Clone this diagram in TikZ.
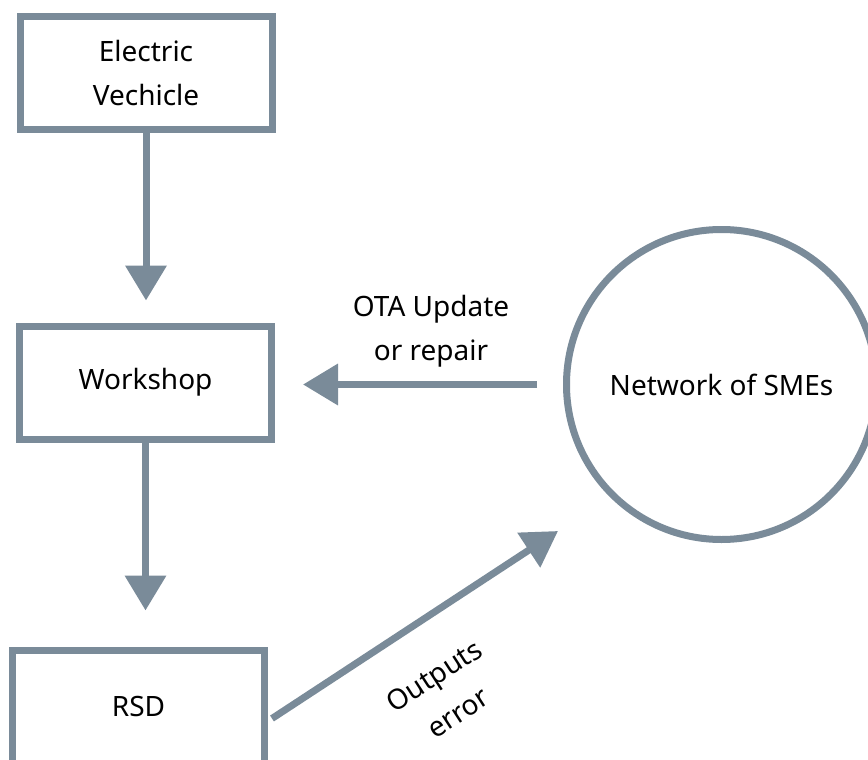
\documentclass[tikz,border=0pt]{standalone}
\usepackage{fontspec}
\setmainfont{Noto Sans}
\usetikzlibrary{arrows.meta}
\definecolor{slate}{RGB}{122,139,153}

\begin{document}
\begin{tikzpicture}[x=1pt,y=-1pt,>={Triangle[length=35pt,width=40pt]},line join=miter,
  box/.style={draw=slate,line width=7pt,inner sep=0pt,minimum width=252pt,minimum height=113pt,align=center,font=\fontsize{28}{44}\selectfont},
  hub/.style={draw=slate,line width=7pt,circle,inner sep=0pt,minimum size=310pt,font=\fontsize{28}{30}\selectfont},
  flow/.style={->,draw=slate,line width=7pt},
  lbl/.style={align=center,font=\fontsize{28}{44}\selectfont}]
\useasboundingbox (0,0) rectangle (868,760);
\node[box] (ev) at (146,73) {Electric\\Vechicle};
\node[box] (ws) at (145.5,382.5) {\raisebox{-5pt}{Workshop}};
\node[box] (rsd) at (138.5,706.5) {RSD};
\node[hub] (net) at (721.5,384.5) {\raisebox{-3pt}{Network of SMEs}};
\coordinate (errtip) at (558,531);
\draw[flow,shorten >=22pt] (ev) -- (ev |- ws.north);
\draw[flow,shorten >=36pt] (ws) -- (ws |- rsd.north);
\draw[flow,shorten <=26pt,shorten >=28pt] (net.west) -- (net.west -| ws.east);
\draw[flow] (rsd.east) ++(4,12) -- (errtip);
\node[lbl] (ota) at (431,331) {OTA Update\\or repair};
\node[lbl,rotate=33] (err) at (446,694) {Outputs\\error};
\end{tikzpicture}
\end{document}
